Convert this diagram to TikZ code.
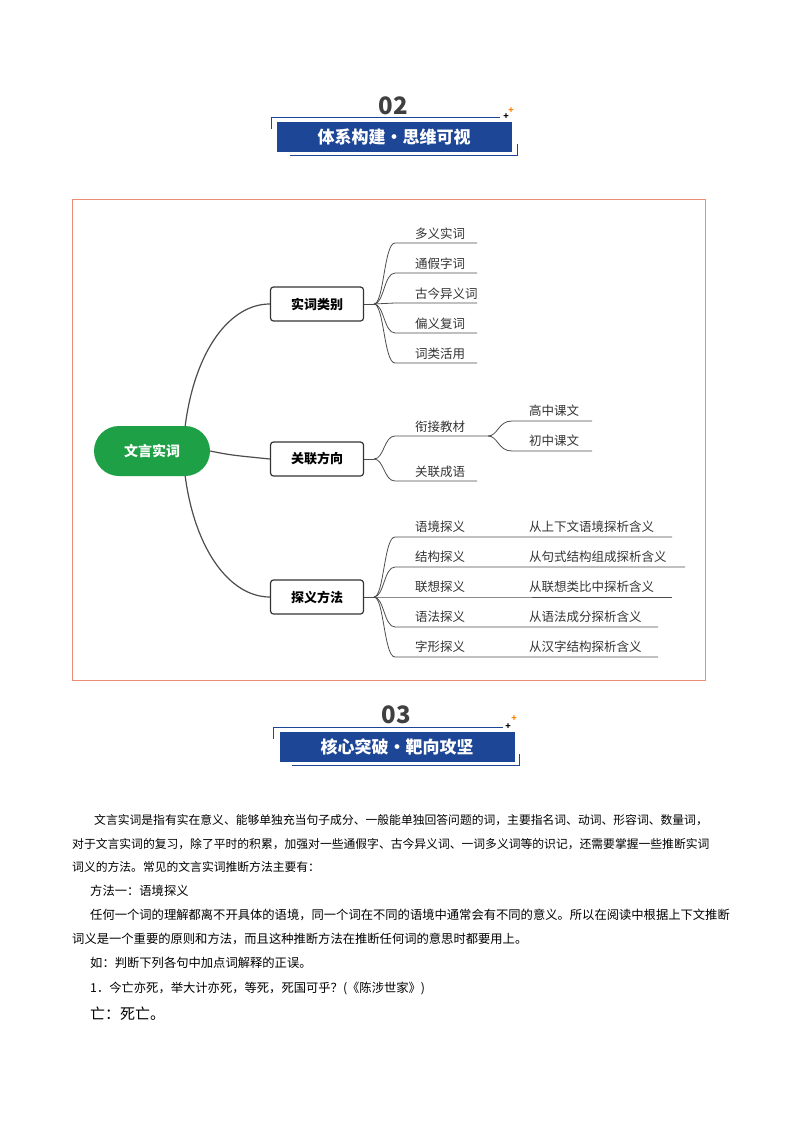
\documentclass[tikz,border=0pt]{standalone}
\usepackage{fontspec}
\setmainfont{Noto Sans CJK SC}
\newfontfamily\cjk{Noto Sans CJK SC}
\begin{document}
\begin{tikzpicture}[x=1pt,y=-1pt,
  lvl/.style={draw=black!80,line width=1.2pt,rounded corners=3pt,minimum width=93pt,minimum height=34pt,font=\fontsize{13}{13}\selectfont\bfseries},
  lf/.style={anchor=base west,font=\fontsize{12.5}{13}\selectfont,text=black!80,inner sep=0},
  br/.style={draw=black!70,line width=0.8pt},
  hd/.style={minimum width=235pt,minimum height=30pt,text=white,font=\fontsize{17}{17}\selectfont\bfseries},
  star/.style={font=\fontsize{9}{9}\selectfont\bfseries,inner sep=0},
  para/.style={anchor=base west,font=\fontsize{12.3}{12}\selectfont,inner sep=0},
  spara/.style={anchor=base west,font=\fontsize{11.8}{12}\selectfont,inner sep=0}]
\useasboundingbox (0,0) rectangle (794,1123);
\definecolor{hblue}{RGB}{30,70,150}
\definecolor{gr}{RGB}{30,160,70}
% header 02
\node[font=\fontsize{24}{24}\selectfont\bfseries,text=black!75] (n02) at (393,106) {02};
\node[hd,fill=hblue] (h1) at (394,137) {体系构建·思维可视};
\draw[hblue,line width=0.8pt] (271,129) -- (271,117) -- (500,117);
\draw[hblue,line width=0.8pt] (290,155) -- (517,155) -- (517,144);
\node[star,text=black] (s1) at (506,117) {+};
\node[star,text=orange] (s2) at (511,111) {+};
% frame
\draw[red!50!brown!60,line width=0.6pt] (72,199) rectangle (705,680);
% root
\node[fill=gr,rounded corners=25pt,minimum width=116pt,minimum height=50pt,text=white,font=\fontsize{14}{14}\selectfont\bfseries] (root) at (152,451) {文言实词};
\node[lvl] (a) at (317,304) {实词类别};
\node[lvl] (b) at (317,459) {关联方向};
\node[lvl] (c) at (317,597) {探义方法};
\draw[br,line width=1.2pt] (root.north east)++(-25,0) .. controls (195,350) and (230,304) .. (a.west);
\draw[br,line width=1.2pt] (root.east) .. controls (230,455) .. (b.west);
\draw[br,line width=1.2pt] (root.south east)++(-25,0) .. controls (195,550) and (230,597) .. (c.west);
% a children
\coordinate (ab) at (374,304);
\draw[br] (a.east) -- (ab);
\foreach \t/\y in {多义实词/243,通假字词/273,古今异义词/303,偏义复词/333,词类活用/363}{
  \draw[br] (ab) .. controls (384,304) and (384,\y) .. (395,\y) -- (477,\y);
  \node[lf] at (415,\y-5) {\t};
}
% b children
\coordinate (bb) at (374,459);
\draw[br] (b.east) -- (bb);
\draw[br] (bb) .. controls (384,459) and (384,436) .. (395,436) -- (488,436);
\node[lf] at (415,431) {衔接教材};
\draw[br] (bb) .. controls (384,459) and (384,481) .. (395,481) -- (477,481);
\node[lf] at (415,476) {关联成语};
\coordinate (bc) at (488,436);
\draw[br] (bc) .. controls (498,436) and (498,421) .. (512,421) -- (592,421);
\draw[br] (bc) .. controls (498,436) and (498,451) .. (512,451) -- (592,451);
\node[lf] at (529,415) {高中课文};
\node[lf] at (529,445) {初中课文};
% c children
\coordinate (cb) at (374,597);
\draw[br] (c.east) -- (cb);
\foreach \t/\u/\y/\e in {语境探义/从上下文语境探析含义/537/672,结构探义/从句式结构组成探析含义/567/685,联想探义/从联想类比中探析含义/597/672,语法探义/从语法成分探析含义/627/658,字形探义/从汉字结构探析含义/657/658}{
  \draw[br] (cb) .. controls (384,597) and (384,\y) .. (395,\y) -- (\e,\y);
  \node[lf] at (415,\y-6) {\t};
  \node[lf] at (529,\y-6) {\u};
}
% header 03
\node[font=\fontsize{24}{24}\selectfont\bfseries,text=black!75] (n03) at (396,715) {03};
\node[hd,fill=hblue] (h2) at (397,747) {核心突破·靶向攻坚};
\draw[hblue,line width=0.8pt] (273,739) -- (273,727) -- (503,727);
\draw[hblue,line width=0.8pt] (292,765) -- (519,765) -- (519,754);
\node[star,text=black] (s3) at (508,727) {+};
\node[star,text=orange] (s4) at (514,719) {+};
% body text
\node[spara] (p1) at (94,824) {文言实词是指有实在意义、能够单独充当句子成分、一般能单独回答问题的词，主要指名词、动词、形容词、数量词，};
\node[spara] (p2) at (72,848) {对于文言实词的复习，除了平时的积累，加强对一些通假字、古今异义词、一词多义词等的识记，还需要掌握一些推断实词};
\node[spara] (p3) at (72,871) {词义的方法。常见的文言实词推断方法主要有：};
\node[para] (p4) at (90,895) {方法一：语境探义};
\node[para] (p5) at (90,919) {任何一个词的理解都离不开具体的语境，同一个词在不同的语境中通常会有不同的意义。所以在阅读中根据上下文推断};
\node[para] (p6) at (72,943) {词义是一个重要的原则和方法，而且这种推断方法在推断任何词的意思时都要用上。};
\node[para] (p7) at (90,967) {如：判断下列各句中加点词解释的正误。};
\node[para] (p8) at (90,992) {1．今亡亦死，举大计亦死，等死，死国可乎？(《陈涉世家》)};
\node[para,font=\fontsize{15}{15}\selectfont] (p9) at (90,1019) {亡：死亡。};
\end{tikzpicture}
\end{document}
